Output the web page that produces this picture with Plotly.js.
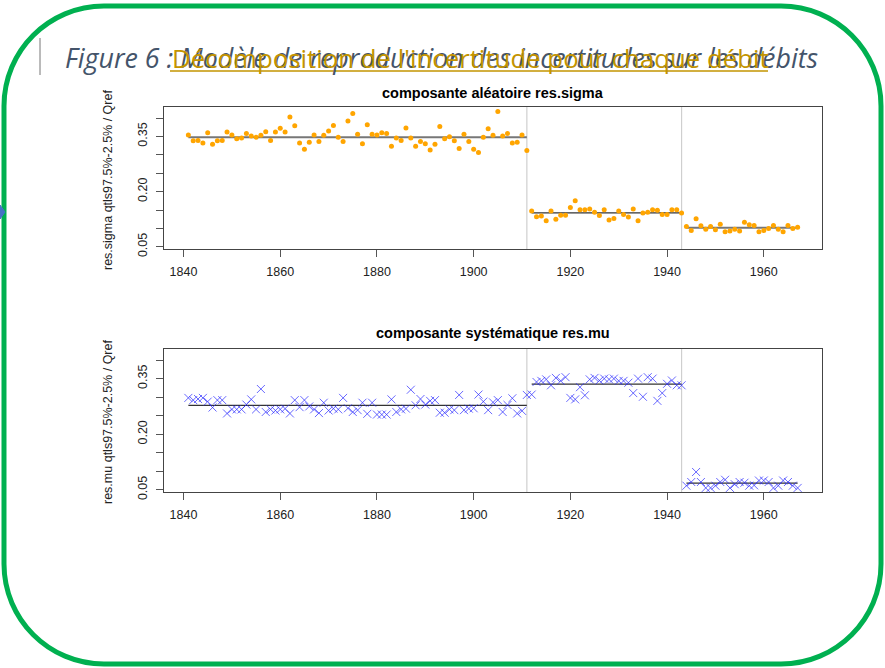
<!DOCTYPE html>
<html><head><meta charset="utf-8">
<script src="https://cdn.plot.ly/plotly-3.0.1.min.js"></script>
<style>html,body{margin:0;padding:0;background:#fff;overflow:hidden}#chart{width:885px;height:668px}</style>
</head><body><div id="chart"></div>
<script>
// ---- data ----
const segStart = [1841, 1912, 1944];
const segEnd   = [1911, 1943, 1967];
const breakYears = [1911, 1943];

const sigma1 = [0.354,0.338,0.339,0.332,0.360,0.329,0.338,0.339,0.362,0.354,
  0.344,0.346,0.358,0.351,0.348,0.353,0.363,0.339,0.362,0.372,
  0.362,0.403,0.379,0.332,0.315,0.334,0.354,0.336,0.353,0.365,
  0.380,0.348,0.336,0.392,0.412,0.356,0.330,0.382,0.356,0.354,
  0.360,0.358,0.323,0.346,0.339,0.373,0.346,0.323,0.336,0.330,
  0.313,0.329,0.377,0.344,0.349,0.338,0.317,0.356,0.336,0.315,
  0.306,0.348,0.371,0.353,0.418,0.351,0.358,0.332,0.334,0.354,
  0.312];
const sigma2 = [0.147,0.132,0.134,0.121,0.147,0.125,0.136,0.136,0.157,0.175,
  0.151,0.151,0.153,0.144,0.135,0.151,0.123,0.127,0.147,0.138,
  0.131,0.153,0.121,0.142,0.144,0.151,0.149,0.138,0.138,0.151,
  0.151,0.142];
const sigma3 = [0.105,0.094,0.126,0.107,0.098,0.105,0.096,0.111,0.091,0.093,
  0.098,0.093,0.117,0.110,0.108,0.091,0.094,0.100,0.108,0.098,
  0.091,0.108,0.100,0.103];
const sigmaMeans = [0.348, 0.142, 0.102];

const mu1 = [0.298,0.292,0.295,0.298,0.288,0.272,0.292,0.292,0.256,0.267,
  0.267,0.267,0.280,0.294,0.267,0.322,0.260,0.267,0.264,0.267,
  0.269,0.256,0.292,0.273,0.292,0.275,0.267,0.257,0.285,0.264,
  0.269,0.267,0.298,0.270,0.260,0.265,0.285,0.255,0.285,0.253,
  0.253,0.253,0.294,0.260,0.267,0.269,0.320,0.278,0.295,0.280,
  0.290,0.292,0.258,0.258,0.267,0.265,0.306,0.265,0.269,0.270,
  0.307,0.288,0.265,0.286,0.292,0.260,0.279,0.297,0.256,0.263,
  0.306];
const mu2 = [0.307,0.341,0.344,0.348,0.332,0.352,0.344,0.354,0.298,0.294,
  0.327,0.305,0.348,0.352,0.345,0.350,0.348,0.350,0.344,0.344,
  0.339,0.311,0.350,0.301,0.354,0.350,0.290,0.311,0.336,0.345,
  0.332,0.332];
const mu3 = [0.061,0.071,0.098,0.071,0.055,0.055,0.061,0.071,0.077,0.055,
  0.065,0.071,0.069,0.061,0.062,0.075,0.075,0.071,0.055,0.061,
  0.075,0.071,0.061,0.055];
const muMeans = [0.278, 0.335, 0.068];

const xTicks = [1840,1860,1880,1900,1920,1940,1960];
const yTicks = [0.05,0.10,0.15,0.20,0.25,0.30,0.35,0.40];
const yTickText = ['0.05','','','0.20','','','0.35',''];

// ---- helpers ----
function years(a, b){ const r=[]; for(let y=a;y<=b;y++) r.push(y); return r; }
const W=885, H=668;
const px = x => x/W, py = y => 1 - y/H;

const traces = [];
const sigmaSeries = [sigma1, sigma2, sigma3];
const muSeries = [mu1, mu2, mu3];
const FONT = 'Liberation Sans, Arial, sans-serif';

for (let i=0;i<3;i++){
  traces.push({x:[segStart[i],segEnd[i]], y:[sigmaMeans[i],sigmaMeans[i]], xaxis:'x', yaxis:'y',
    mode:'lines', line:{color: i===1?'#333':'#777', width: i===1?1.2:2}, hoverinfo:'skip', showlegend:false});
  traces.push({x:[segStart[i],segEnd[i]], y:[muMeans[i],muMeans[i]], xaxis:'x2', yaxis:'y2',
    mode:'lines', line:{color:'#333', width:1.2}, hoverinfo:'skip', showlegend:false});
}
for (let i=0;i<3;i++){
  traces.push({x:years(segStart[i],segEnd[i]), y:sigmaSeries[i], xaxis:'x', yaxis:'y',
    mode:'markers', marker:{color:'#FFA500', size:5, symbol:'circle'}, showlegend:false});
  traces.push({x:years(segStart[i],segEnd[i]), y:muSeries[i], xaxis:'x2', yaxis:'y2',
    mode:'markers', marker:{symbol:'x-thin-open', size:8, color:'rgba(40,40,255,0.7)', line:{color:'rgba(40,40,255,0.7)', width:1}}, showlegend:false});
}

function xax(anchor){
  return {domain:[px(164), px(822)], range:[1835.96,1972.04], anchor:anchor,
    tickvals:xTicks, ticks:'outside', ticklen:7, tickcolor:'#555', tickwidth:1,
    showline:true, mirror:true, linecolor:'#444', linewidth:1,
    showgrid:false, zeroline:false, ticklabelstandoff:4,
    tickfont:{family:FONT, size:12.5, color:'#222'}};
}
function yax(anchor, top, bot){
  return {domain:[py(bot), py(top)], range:[0.044,0.43], anchor:anchor,
    tickvals:yTicks, ticktext:yTickText, tickangle:-90, ticks:'outside', ticklen:7,
    tickcolor:'#555', tickwidth:1, showline:true, mirror:true, linecolor:'#444', linewidth:1,
    showgrid:false, zeroline:false, ticklabelstandoff:4,
    tickfont:{family:FONT, size:12.5, color:'#222'}};
}

const shapes = [];
for (const b of breakYears){
  shapes.push({type:'line', xref:'x', yref:'y domain', x0:b, x1:b, y0:0, y1:1, line:{color:'#cfcfcf', width:1.2}, layer:'below'});
  shapes.push({type:'line', xref:'x2', yref:'y2 domain', x0:b, x1:b, y0:0, y1:1, line:{color:'#cfcfcf', width:1.2}, layer:'below'});
}
// slide frame (rounded rectangle) and title decorations
(function(){
  const L=4, R=881, T=6, B=664, r=100, k=0.5523*r;
  const P=(x,y)=>px(x)+','+py(y);
  const d = 'M'+P(L+r,T)+' L'+P(R-r,T)+
    ' C'+P(R-r+k,T)+' '+P(R,T+r-k)+' '+P(R,T+r)+
    ' L'+P(R,B-r)+
    ' C'+P(R,B-r+k)+' '+P(R-r+k,B)+' '+P(R-r,B)+
    ' L'+P(L+r,B)+
    ' C'+P(L+r-k,B)+' '+P(L,B-r+k)+' '+P(L,B-r)+
    ' L'+P(L,T+r)+
    ' C'+P(L,T+r-k)+' '+P(L+r-k,T)+' '+P(L+r,T)+' Z';
  shapes.push({type:'path', xref:'paper', yref:'paper', path:d, line:{color:'#00B050', width:5}, layer:'above'});
  shapes.push({type:'line', xref:'paper', yref:'paper', x0:px(40), x1:px(40), y0:py(38), y1:py(75), line:{color:'#777', width:1}});
  shapes.push({type:'line', xref:'paper', yref:'paper', x0:px(170), x1:px(768), y0:py(71), y1:py(71), line:{color:'#C39400', width:1.6}});
  shapes.push({type:'path', xref:'paper', yref:'paper',
    path:'M'+P(0,205)+' L'+P(5,212)+' L'+P(0,219)+' Z', fillcolor:'#4472C4', line:{color:'#4472C4', width:1}});
})();

const annotations = [
  {xref:'paper', yref:'paper', x:px(63), y:py(58), xanchor:'left', yanchor:'middle', showarrow:false,
   text:'<i>Figure 6 : Modèle de reproduction des incertitudes sur les débits</i>',
   font:{family:'Open Sans, sans-serif', size:26.8, color:'#44546A'}},
  {xref:'paper', yref:'paper', x:px(170), y:py(58), xanchor:'left', yanchor:'middle', showarrow:false,
   text:'Décomposition de l\'incertitude pour chaque débit',
   font:{family:'Open Sans, sans-serif', size:25.8, color:'#C39400'}},
  {xref:'paper', yref:'paper', x:px(493), y:py(93), xanchor:'center', yanchor:'middle', showarrow:false,
   text:'<b>composante aléatoire res.sigma</b>', font:{family:FONT, size:14.5, color:'#000'}},
  {xref:'paper', yref:'paper', x:px(493), y:py(333), xanchor:'center', yanchor:'middle', showarrow:false,
   text:'<b>composante systématique res.mu</b>', font:{family:FONT, size:14.5, color:'#000'}},
  {xref:'paper', yref:'paper', x:px(108), y:py(180), xanchor:'center', yanchor:'middle', showarrow:false, textangle:-90,
   text:'res.sigma qtls97.5%-2.5% / Qref', font:{family:FONT, size:12.5, color:'#222'}},
  {xref:'paper', yref:'paper', x:px(108), y:py(422), xanchor:'center', yanchor:'middle', showarrow:false, textangle:-90,
   text:'res.mu qtls97.5%-2.5% / Qref', font:{family:FONT, size:12.5, color:'#222'}}
];

const layout = {
  width:W, height:H, margin:{l:0,r:0,t:0,b:0}, paper_bgcolor:'#fff', plot_bgcolor:'#fff',
  showlegend:false,
  xaxis: xax('y'), yaxis: yax('x', 107, 249),
  xaxis2: xax('y2'), yaxis2: yax('x2', 349, 492),
  shapes: shapes, annotations: annotations
};
Plotly.newPlot('chart', traces, layout, {displayModeBar:false, staticPlot:true});
</script></body></html>
